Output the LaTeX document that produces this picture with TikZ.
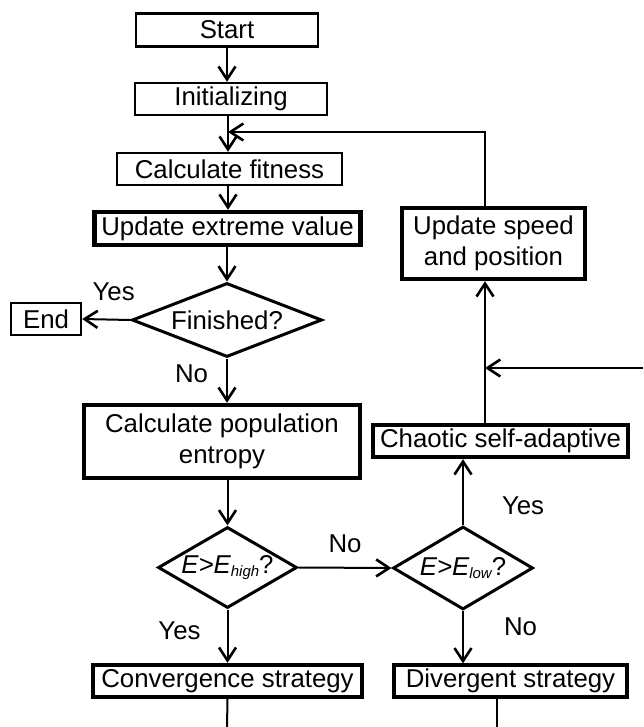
\documentclass[tikz,border=0pt]{standalone}
\usepackage{fontspec}
\setmainfont{Liberation Sans}
\usetikzlibrary{shapes.geometric, arrows.meta, positioning, calc}
\newcommand{\flowfont}{\fontsize{12.9}{15.5}\selectfont}
\newcommand{\lowsub}[1]{\raisebox{-1.2pt}{\fontsize{7.5}{8}\selectfont #1}}
\tikzset{
  procbox/.style={rectangle, draw, line width=1.2pt, inner sep=0pt,
    font=\flowfont, align=center},
  procthick/.style={procbox, line width=2.2pt},
  decide/.style={diamond, draw, line width=1.5pt, inner sep=0pt, font=\flowfont},
  arr/.style={-{Straight Barb[length=6.5pt,width=8.5pt,line width=1.3pt]}, line width=1pt},
  plain/.style={line width=1pt},
  lbl/.style={font=\flowfont, inner sep=0pt},
}

\begin{document}
\begin{tikzpicture}[x=0.5pt, y=-0.5pt]
\useasboundingbox (0,0) rectangle (643,727);
\def\xM{228}\def\xR{485}
% main column
\node[procbox, minimum width=91pt, minimum height=16.5pt] (start) at (227,30) {Start};
\node[procbox, minimum width=96pt, minimum height=16pt] (init) at (231,99) {Initializing};
\node[procbox, minimum width=112.5pt, minimum height=16pt] (fitness) at (229.5,169) {Calculate fitness};
\node[procthick, minimum width=133pt, minimum height=16.5pt] (extreme) at (227.5,228.5) {Update extreme value};
\node[decide, aspect=2.57, minimum width=95pt, minimum height=37pt] (finished) at (227,320) {Finished?};
\node[procbox, minimum width=35pt, minimum height=16pt] (end) at (46,319) {End};
\node[procthick, minimum width=138pt, minimum height=36.5pt] (entropy) at (222,441.5) {Calculate population\\entropy};
\node[decide, aspect=1.72, minimum width=69.5pt, minimum height=40.5pt] (ehigh) at (227.5,567.5) {\textit{E>E\lowsub{high}}?};
\node[decide, aspect=1.69, minimum width=70pt, minimum height=41.5pt] (elow) at (463,568) {\textit{E>E\lowsub{low}}?};
\node[procthick, minimum width=134.5pt, minimum height=16pt] (conv) at (227.5,681) {Convergence strategy};
\node[procbox, line width=1.6pt, minimum width=116.5pt, minimum height=16pt] (div) at (510.5,681) {Divergent strategy};
% right column
\node[procthick, minimum width=127.5pt, minimum height=16pt] (chaotic) at (500.5,441) {Chaotic self-adaptive};
\node[procthick, minimum width=91.5pt, minimum height=35.5pt] (speed) at (493.5,243.5) {Update speed\\and position};
% free ends
\coordinate (loop) at (\xM,132);
\coordinate (rtop) at (\xR,132);
\coordinate (rin) at (643,368);
\coordinate (cbot) at (227,727);
\coordinate (dbot) at (497,727);
% connectors
\draw[arr] (start.south) -- (start.south |- init.north);
\draw[arr] (init.south -| loop) -- (fitness.north -| loop);
\draw[arr] (fitness.south -| loop) -- (extreme.north -| loop);
\draw[arr] (extreme.south -| finished.north) -- (finished.north);
\draw[arr] (finished.west) -- node[lbl, above=9pt, pos=0.35] {Yes} (end.east);
\draw[arr] (finished.south) -- node[lbl, left=9pt, pos=0.35] {No} (finished.south |- entropy.north);
\draw[arr] (entropy.south -| ehigh.north) -- (ehigh.north);
\draw[arr] (ehigh.east) -- node[lbl, above=7pt] {No} (elow.west);
\draw[arr] (ehigh.south) -- node[lbl, left=13pt, pos=0.4] {Yes} (ehigh.south |- conv.north);
\draw[arr] (elow.south) -- node[lbl, right=20pt, pos=0.3] {No} (elow.south |- div.north);
\draw[arr] (elow.north) -- node[lbl, right=19pt, pos=0.3] {Yes} (elow.north |- chaotic.south);
\draw[arr] (chaotic.north -| rtop) -- (speed.south -| rtop);
\draw[arr] (speed.north -| rtop) -- (rtop) -- (loop);
\draw[arr, line width=0.7pt] (rin) -- (rin -| rtop);
\draw[plain] (conv.south) -- (cbot);
\draw[plain] (dbot |- div.south) -- (dbot);
\end{tikzpicture}
\end{document}
